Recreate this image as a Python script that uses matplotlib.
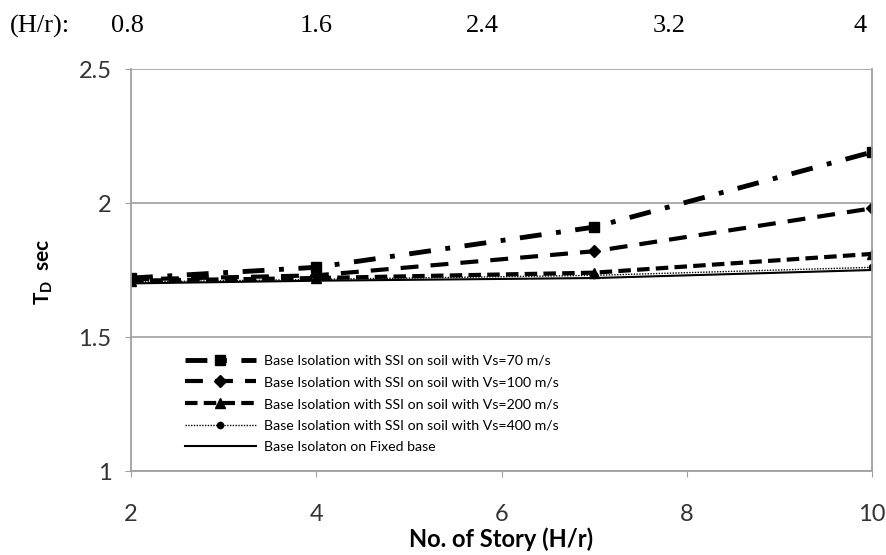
import matplotlib
matplotlib.use('Agg')
import matplotlib.pyplot as plt

# data
stories = [2, 4, 7, 10]
vs70 = [1.72, 1.76, 1.91, 2.19]
vs100 = [1.715, 1.73, 1.82, 1.98]
vs200 = [1.71, 1.72, 1.74, 1.81]
vs400 = [1.705, 1.715, 1.73, 1.76]
fixed = [1.70, 1.71, 1.72, 1.75]

labels = [
    'Base Isolation with SSI on soil with Vs=70 m/s',
    'Base Isolation with SSI on soil with Vs=100 m/s',
    'Base Isolation with SSI on soil with Vs=200 m/s',
    'Base Isolation with SSI on soil with Vs=400 m/s',
    'Base Isolaton on Fixed base',
]

hr_labels = ['0.8', '1.6', '2.4', '3.2', '4']
hr_pos = [127, 316, 482, 669, 860]   # pixel x of the H/r labels on top

plt.rcParams['font.family'] = ['Lato', 'DejaVu Sans']
plt.rcParams['mathtext.fontset'] = 'custom'
plt.rcParams['mathtext.bf'] = 'Lato:bold'
plt.rcParams['mathtext.rm'] = 'Lato'

W, H = 886, 555
fig = plt.figure(figsize=(W / 100, H / 100), dpi=100)
ax = fig.add_axes([131 / W, 1 - 471 / H, (872 - 131) / W, (471 - 69) / H])

ax.plot(stories, vs70, color='black', lw=3.5, ls=(0, (4.5, 3, 1, 3)),
        marker='s', ms=7, label=labels[0])
ax.plot(stories, vs100, color='black', lw=3, ls=(0, (4.3, 2.9)),
        marker='D', ms=6, label=labels[1])
ax.plot(stories, vs200, color='black', lw=3, ls=(0, (3, 1.5)),
        marker='^', ms=6.5, label=labels[2])
ax.plot(stories, vs400, color='black', lw=1, ls=(0, (1, 1)),
        marker='o', ms=4.5, label=labels[3])
ax.plot(stories, fixed, color='black', lw=1.5, ls='-', label=labels[4])

ax.set_xlim(2, 10)
ax.set_ylim(1, 2.5)
ax.set_xticks([2, 4, 6, 8, 10])
ax.set_yticks([1, 1.5, 2, 2.5])
ax.set_yticklabels(['1', '1.5', '2', '2.5'])
ax.grid(axis='y', color='#a0a0a0', lw=1.2)
for s in ax.spines.values():
    s.set_color('#a0a0a0')
    s.set_linewidth(1.3)
ax.spines['top'].set_visible(False)
ax.tick_params(axis='both', colors='#a0a0a0', labelcolor='#333333',
               labelsize=17, length=4, direction='out')
ax.tick_params(axis='y', pad=10)
ax.tick_params(axis='x', pad=20)

ax.set_xlabel('No. of Story (H/r)', fontsize=17, fontweight='bold')
ax.xaxis.set_label_coords(0.5, -0.14)
ax.set_ylabel(r'$\mathbf{T_D}$  sec', fontsize=15, fontweight='bold')
ax.yaxis.set_label_coords(-0.103, 0.495)

leg = ax.legend(loc='lower left', bbox_to_anchor=(0.065, 0.03), frameon=False,
                fontsize=10.2, handlelength=5.0, numpoints=1,
                labelspacing=0.68, handletextpad=0.6, borderaxespad=0)

fig.text(10 / W, 1 - 26 / H, '(H/r):', family='Liberation Serif',
         fontsize=19, va='center', ha='left')
for lab, px in zip(hr_labels, hr_pos):
    fig.text(px / W, 1 - 26 / H, lab, family='Liberation Serif',
             fontsize=19, va='center', ha='center')

fig.savefig('out.png', dpi=100)
